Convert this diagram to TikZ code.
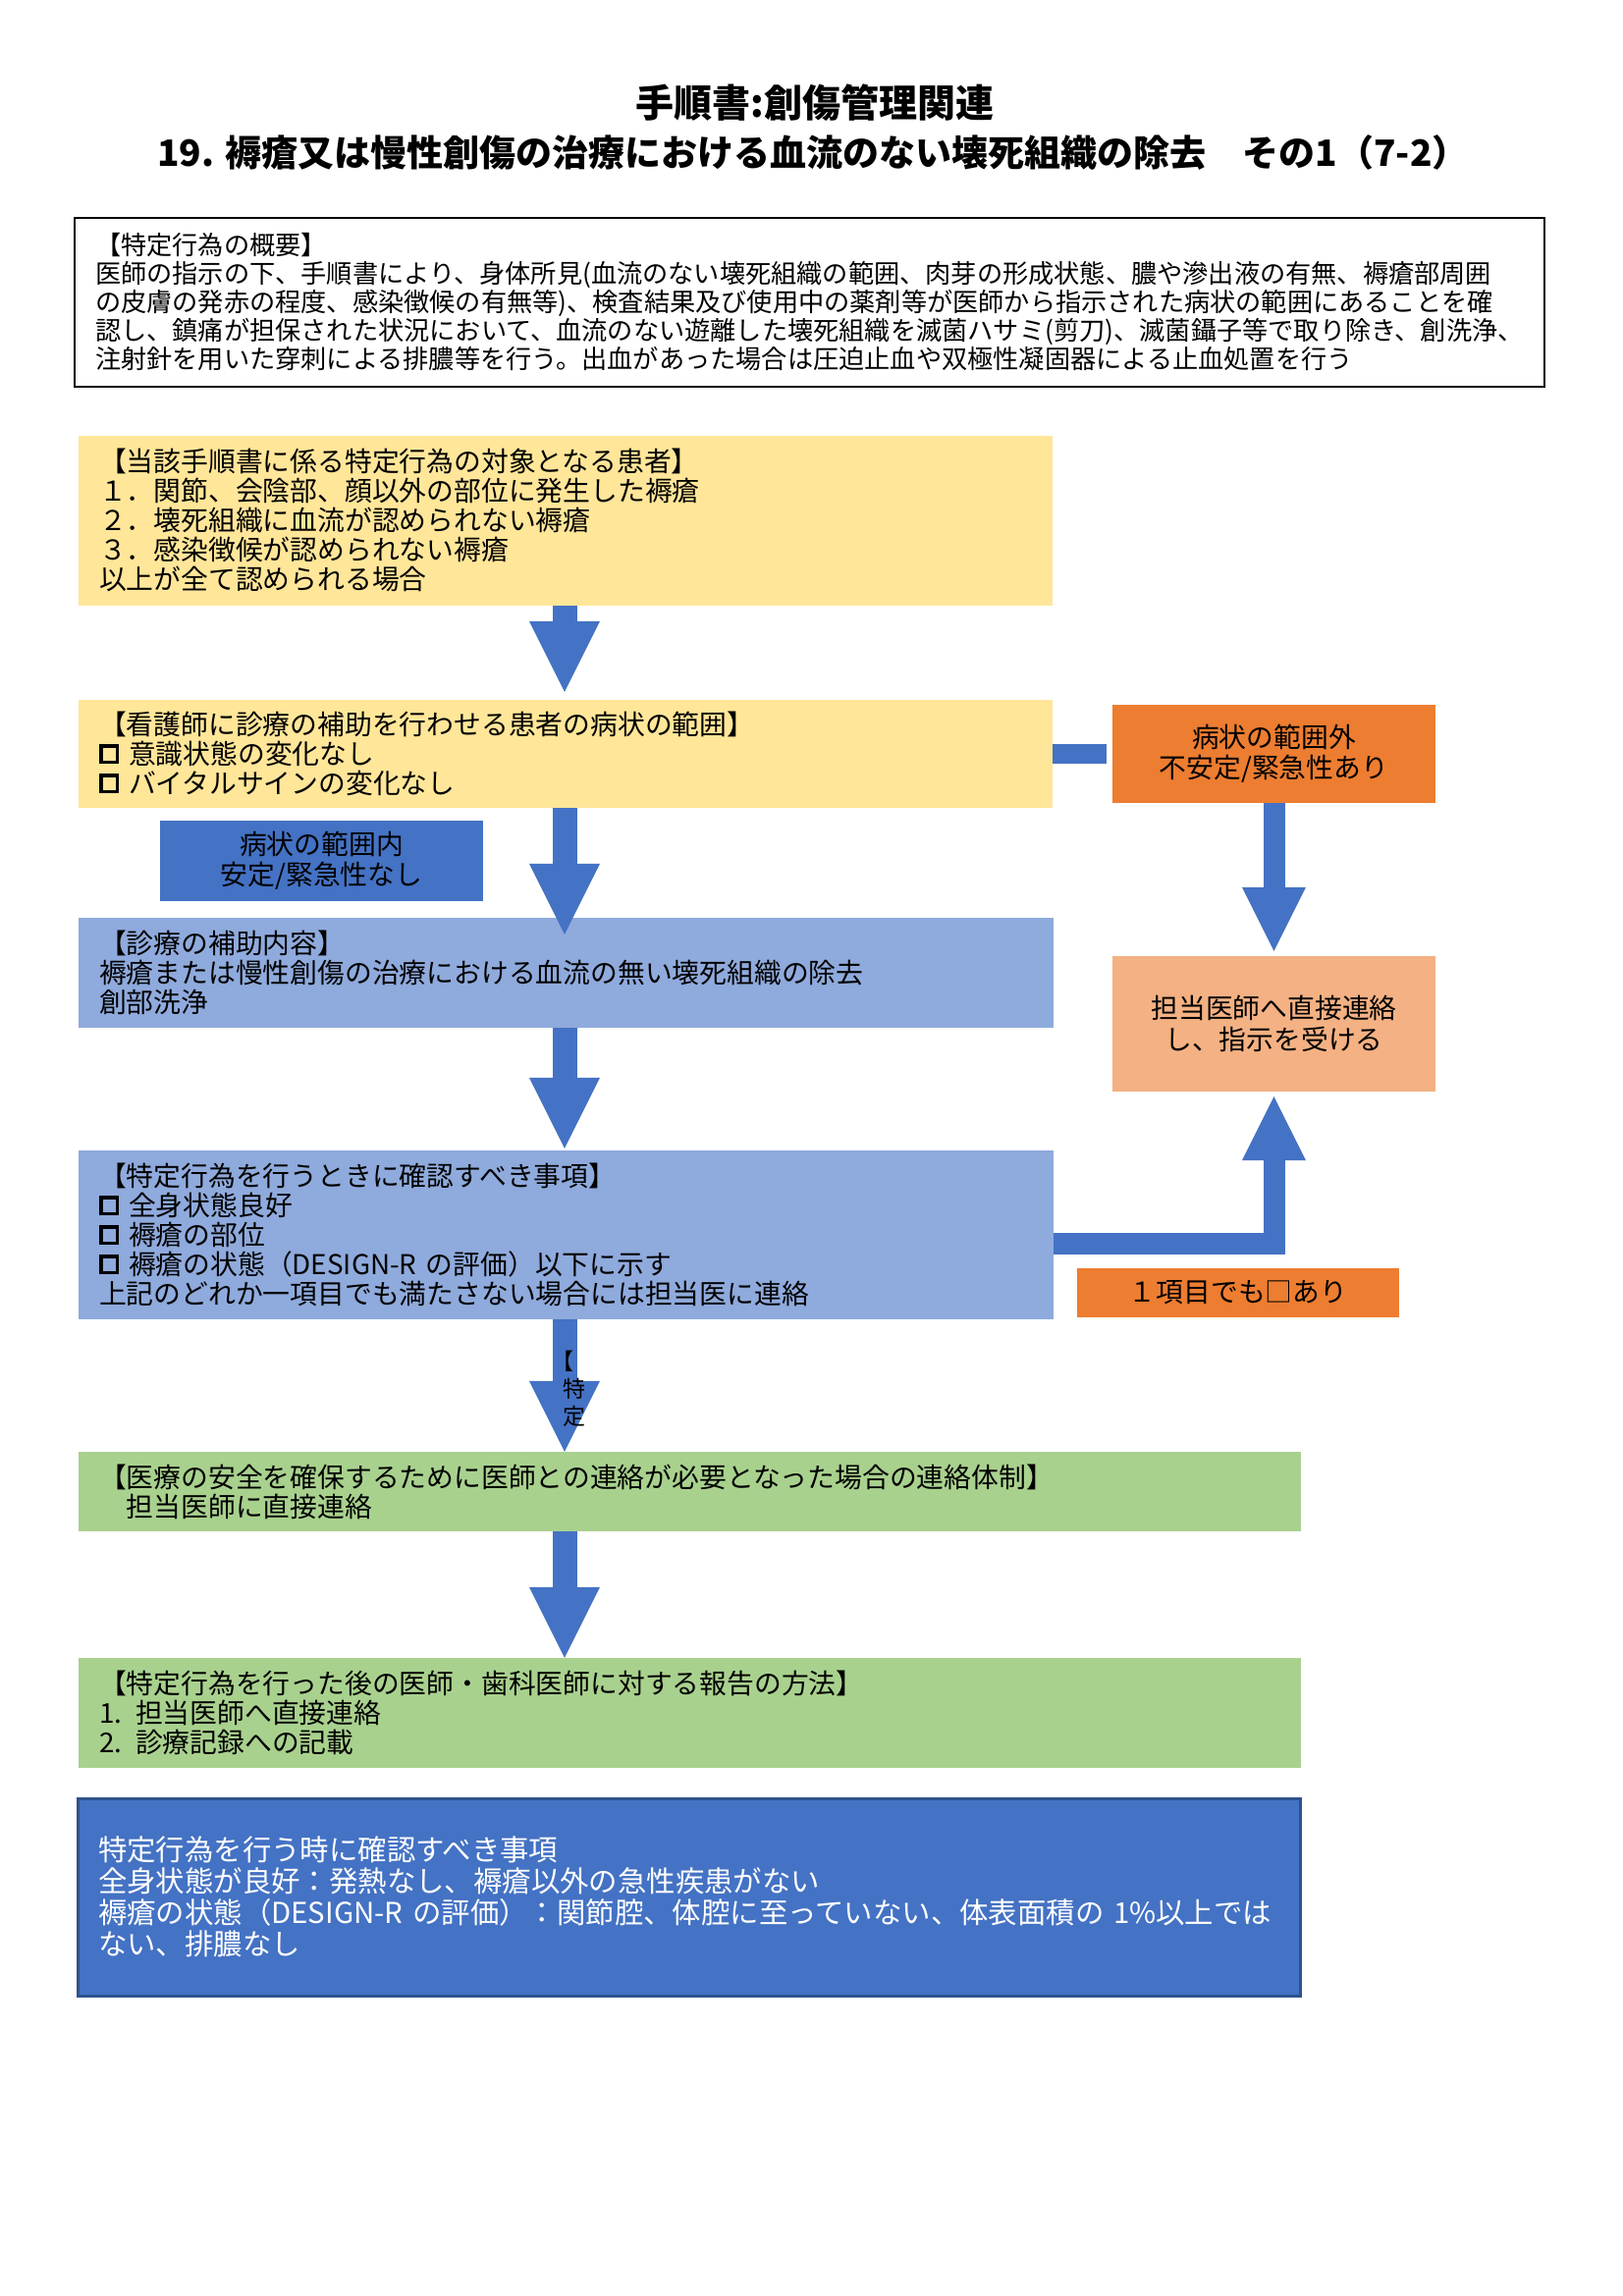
\documentclass[tikz,border=0pt]{standalone}
\usepackage{fontspec}
\setmainfont{Noto Sans CJK JP}
\usetikzlibrary{arrows.meta,calc}
\definecolor{cyellow}{HTML}{FFE699}
\definecolor{clblue}{HTML}{8FAADC}
\definecolor{cblue}{HTML}{4472C4}
\definecolor{corange}{HTML}{ED7D31}
\definecolor{csalmon}{HTML}{F4B183}
\definecolor{cgreen}{HTML}{A9D18E}
\definecolor{cdblue}{HTML}{2F528F}
\newcommand\chkbox{\raisebox{4pt}{\fboxsep=0pt\fboxrule=3.5pt\fbox{\rule{0pt}{13pt}\rule{13pt}{0pt}}}\hspace{10pt}}
\begin{document}
\begin{tikzpicture}[x=1pt,y=-1pt,
  pbox/.style={rectangle, inner xsep=21pt, inner ysep=0pt, align=left,
    font=\fontsize{27.8}{30}\selectfont},
  cbox/.style={rectangle, inner sep=0pt, align=center,
    font=\fontsize{27.8}{31}\selectfont},
  barrow/.style={draw=cblue, line width=25pt,
    -{Triangle[width=72pt,length=72pt,line width=0pt]}},
  oarrow/.style={draw=cblue, line width=22pt, line join=miter,
    -{Triangle[width=65pt,length=65pt,line width=0pt]}},
  titlef/.style={inner sep=0pt, font=\fontsize{39}{45}\selectfont\bfseries}]
\useasboundingbox (0,0) rectangle (1652,2339);
\fill[white] (0,0) rectangle (1652,2339);

% titles
\node[titlef] (t1) at (830,105) {手順書:創傷管理関連};
\node[titlef, font=\fontsize{37}{45}\selectfont\bfseries] (t2) at (828,155) {19. 褥瘡又は慢性創傷の治療における血流のない壊死組織の除去　その1（7-2）};

% overview
\node[pbox, draw=black, line width=2pt, minimum width=1497pt, minimum height=172pt,
  text width=1455pt, font=\fontsize{26.2}{29}\selectfont] (ov) at (824.5,308)
  {【特定行為の概要】\\
   医師の指示の下、手順書により、身体所見(血流のない壊死組織の範囲、肉芽の形成状態、膿や滲出液の有無、褥瘡部周囲\\
   の皮膚の発赤の程度、感染徴候の有無等)、検査結果及び使用中の薬剤等が医師から指示された病状の範囲にあることを確\\
   認し、鎮痛が担保された状況において、血流のない遊離した壊死組織を滅菌ハサミ(剪刀)、滅菌鑷子等で取り除き、創洗浄、\\
   注射針を用いた穿刺による排膿等を行う。出血があった場合は圧迫止血や双極性凝固器による止血処置を行う};

% flow boxes
\node[pbox, fill=cyellow, minimum width=992pt, minimum height=173pt, text width=950pt] (y1) at (576,530)
  {【当該手順書に係る特定行為の対象となる患者】\\
   １．関節、会陰部、顔以外の部位に発生した褥瘡\\
   ２．壊死組織に血流が認められない褥瘡\\
   ３．感染徴候が認められない褥瘡\\
   以上が全て認められる場合};

\node[pbox, fill=cyellow, minimum width=992pt, minimum height=110pt, text width=950pt] (y2) at (576,768)
  {【看護師に診療の補助を行わせる患者の病状の範囲】\\
   \chkbox 意識状態の変化なし\\
   \chkbox バイタルサインの変化なし};

\node[cbox, fill=cblue, minimum width=329pt, minimum height=82pt] (sb) at (327.5,877)
  {病状の範囲内\\安定/緊急性なし};

\node[pbox, fill=clblue, minimum width=993pt, minimum height=112pt, text width=951pt] (b3) at (576.5,991)
  {【診療の補助内容】\\
   褥瘡または慢性創傷の治療における血流の無い壊死組織の除去\\
   創部洗浄};

\node[pbox, fill=clblue, minimum width=993pt, minimum height=172pt, text width=951pt] (b4) at (576.5,1258)
  {【特定行為を行うときに確認すべき事項】\\
   \chkbox 全身状態良好\\
   \chkbox 褥瘡の部位\\
   \chkbox 褥瘡の状態（DESIGN-R の評価）以下に示す\\
   上記のどれか一項目でも満たさない場合には担当医に連絡};

\node[pbox, fill=cgreen, minimum width=1245pt, minimum height=81pt, text width=1203pt] (g1) at (702.5,1519.5)
  {【医療の安全を確保するために医師との連絡が必要となった場合の連絡体制】\\
   　担当医師に直接連絡};

\node[pbox, fill=cgreen, minimum width=1245pt, minimum height=112pt, text width=1203pt] (g2) at (702.5,1745)
  {【特定行為を行った後の医師・歯科医師に対する報告の方法】\\
   1. 担当医師へ直接連絡\\
   2. 診療記録への記載};

\node[pbox, fill=cblue, draw=cdblue, line width=3pt, text=white, minimum width=1245pt, minimum height=201pt,
  text width=1203pt, font=\fontsize{29.4}{32}\selectfont] (bb) at (701.5,1932.5)
  {特定行為を行う時に確認すべき事項\\
   全身状態が良好：発熱なし、褥瘡以外の急性疾患がない\\
   \mbox{褥瘡の状態（DESIGN-R の評価）：関節腔、体腔に至っていない、体表面積の 1\%以上では}\\
   ない、排膿なし};

% right column
\node[cbox, fill=corange, minimum width=329pt, minimum height=100pt] (o1) at (1297.5,768)
  {病状の範囲外\\不安定/緊急性あり};
\node[cbox, fill=csalmon, minimum width=329pt, minimum height=138pt, font=\fontsize{27.8}{32}\selectfont] (sa) at (1297.5,1043)
  {担当医師へ直接連絡\\し、指示を受ける};
\node[cbox, fill=corange, minimum width=328pt, minimum height=50pt] (o2) at (1261,1317)
  {１項目でも□あり};

% connectors
\coordinate (ax) at (575,0);
\coordinate (bary) at (0,1267);
\draw[barrow] (y1.south -| ax) -- ($(y2.north -| ax)+(0,-8)$);
\draw[barrow] (y2.south -| ax) -- ($(b3.north -| ax)+(0,17)$);
\draw[barrow] (b3.south -| ax) -- ($(b4.north -| ax)+(0,-2)$);
\draw[barrow] (b4.south -| ax) -- (g1.north -| ax);
\draw[barrow] (g1.south -| ax) -- (g2.north -| ax);
\draw[cblue, line width=20pt, shorten >=6pt] (y2.east) -- (o1.west);
\draw[oarrow] (o1.south) -- ($(sa.north)+(0,-5)$);
\draw[oarrow] (b4.east |- bary) -| ($(sa.south)+(0,5)$);

% stray text on the arrow
\node[inner sep=0pt, anchor=west, align=left, font=\fontsize{23}{28}\selectfont] (vt) at (573,1415)
  {\hspace*{-12pt}【\\特\\定};
\end{tikzpicture}
\end{document}
